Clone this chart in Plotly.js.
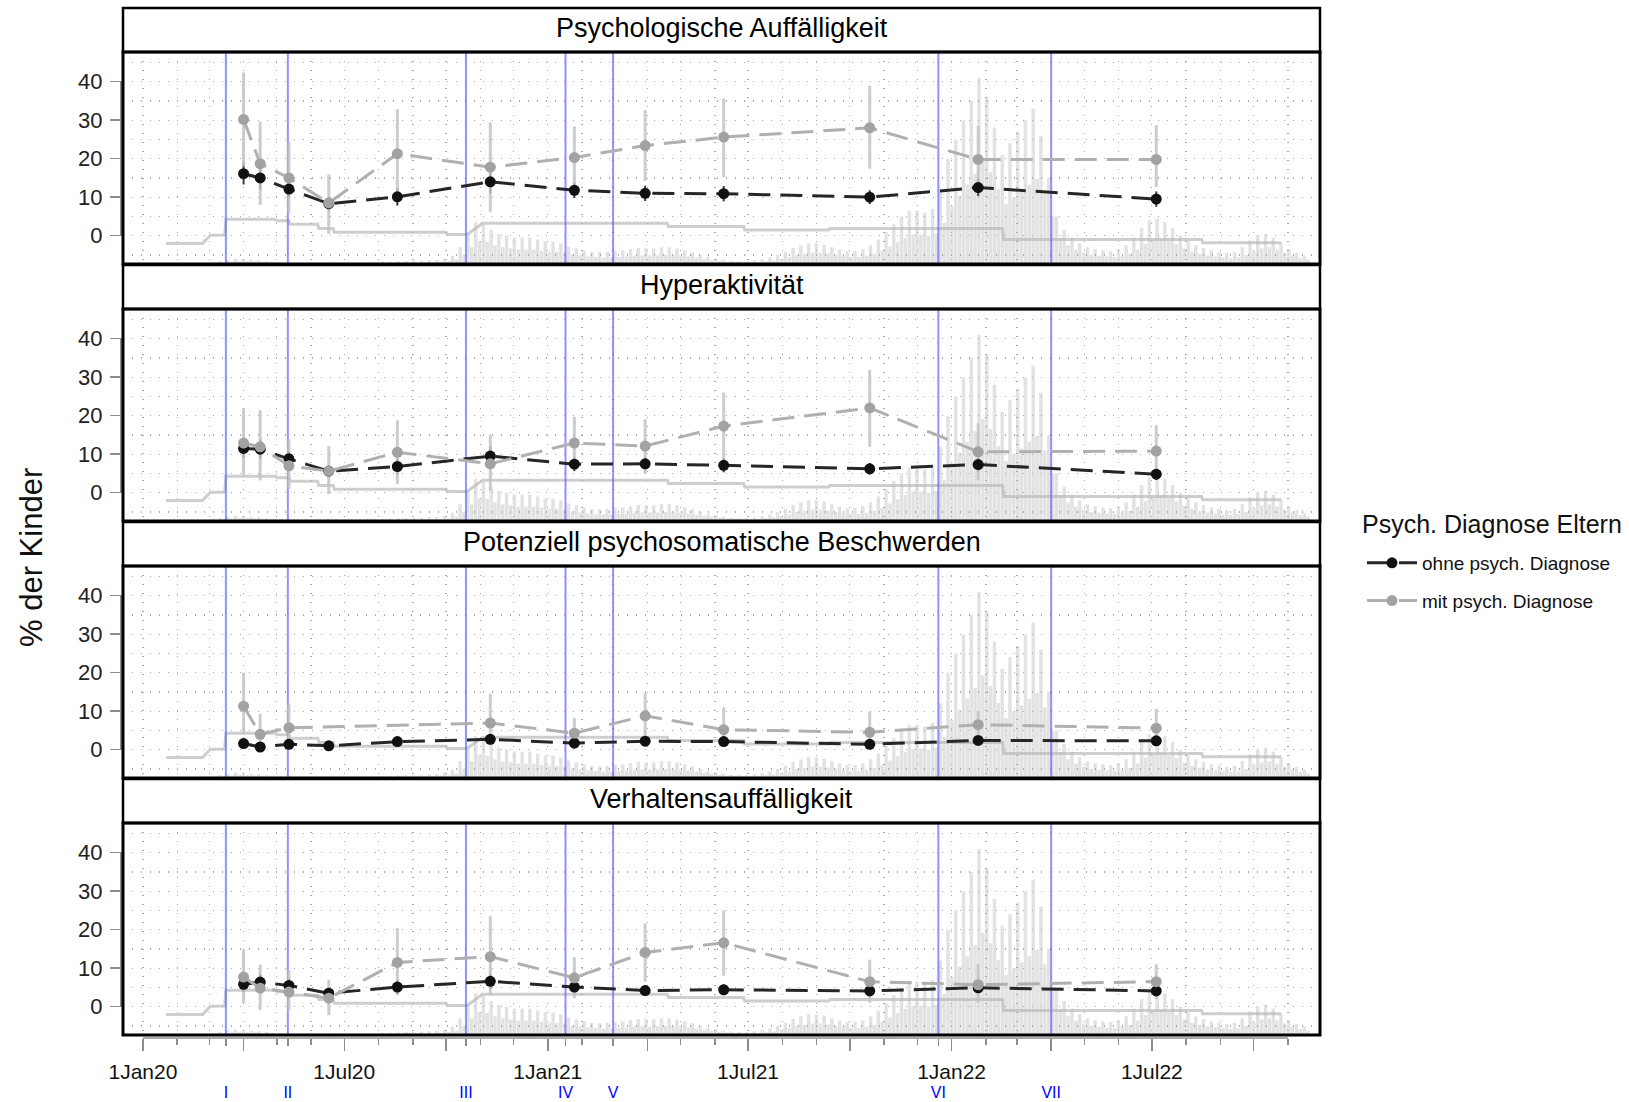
<!DOCTYPE html>
<html><head><meta charset="utf-8">
<script src="https://cdn.plot.ly/plotly-3.0.1.min.js"></script>
<style>html,body{margin:0;padding:0;background:#fff;}#chart{width:1629px;height:1102px;}</style>
</head><body><div id="chart"></div>
<script>
// ---------------- data ----------------
const panelTitles = ["Psychologische Auffälligkeit", "Hyperaktivität", "Potenziell psychosomatische Beschwerden", "Verhaltensauffälligkeit"];
const seriesNames = ["ohne psych. Diagnose", "mit psych. Diagnose"];
const legendTitle = "Psych. Diagnose Eltern";
const yTitle = "% der Kinder";

const surveyDates = ["2020-04-01","2020-04-16","2020-05-12","2020-06-17","2020-08-18","2020-11-10","2021-01-25","2021-03-30","2021-06-09","2021-10-19","2022-01-25","2022-07-05"];

// Psychologische Auffälligkeit
const p1Ohne   = [16.1, 15.0, 12.1, 8.3, 10.1, 14.0, 11.8, 11.0, 10.9, 10.0, 12.5, 9.5];
const p1OhneLo = [13.3, 12.0, 9.9, 6.5, 7.8, 11.0, 9.8, 9.0, 8.9, 8.2, 10.3, 7.5];
const p1OhneHi = [19.0, 18.0, 14.3, 10.1, 12.4, 17.0, 13.8, 13.0, 12.9, 11.8, 14.7, 11.5];
const p1Mit    = [30.2, 18.7, 15.0, 8.5, 21.3, 17.8, 20.3, 23.4, 25.6, 28.0, 19.8, 19.8];
const p1MitLo  = [18.0, 8.0, 5.8, 0.5, 11.0, 6.1, 12.5, 14.2, 15.2, 17.4, 11.5, 12.6];
const p1MitHi  = [42.4, 29.6, 24.3, 15.9, 32.8, 29.4, 28.4, 32.6, 35.6, 38.9, 28.5, 28.7];

// Hyperaktivität
const p2Ohne   = [11.5, 11.3, 8.8, 5.6, 6.8, 9.5, 7.4, 7.5, 7.1, 6.2, 7.3, 4.8];
const p2OhneLo = [9.0, 8.8, 6.8, 4.1, 4.8, 7.0, 5.6, 5.7, 5.3, 4.7, 5.5, 3.3];
const p2OhneHi = [14.0, 13.8, 10.8, 7.1, 8.8, 12.0, 9.2, 9.3, 8.9, 7.7, 9.1, 6.3];
const p2Mit    = [12.9, 11.9, 7.0, 5.6, 10.5, 7.5, 12.9, 12.1, 17.3, 22.0, 10.6, 10.8];
const p2MitLo  = [4.1, 3.2, 1.0, -0.4, 2.3, 0.5, 6.0, 4.9, 8.5, 11.9, 3.2, 4.0];
const p2MitHi  = [21.9, 21.4, 13.8, 12.1, 18.8, 15.1, 19.7, 19.1, 26.0, 31.9, 18.0, 17.5];

// Potenziell psychosomatische Beschwerden
const p3Ohne   = [1.6, 0.7, 1.4, 1.0, 2.1, 2.7, 1.7, 2.2, 2.1, 1.4, 2.4, 2.3];
const p3OhneLo = [0.5, 0.0, 0.5, 0.2, 1.0, 1.4, 0.8, 1.2, 1.1, 0.6, 1.4, 1.3];
const p3OhneHi = [2.8, 1.6, 2.4, 1.8, 3.2, 4.0, 2.6, 3.2, 3.1, 2.2, 3.4, 3.3];
const p3Mit    = [11.3, 4.0, 5.7, null, null, 6.9, 4.3, 8.8, 5.2, 4.5, 6.5, 5.6];
const p3MitLo  = [4.0, 0.0, 0.5, null, null, 1.5, 1.0, 3.0, 1.0, 1.0, 2.5, 1.5];
const p3MitHi  = [20.0, 9.3, 11.9, null, null, 14.5, 8.2, 14.7, 11.0, 9.9, 10.0, 10.6];

// Verhaltensauffälligkeit
const p4Ohne   = [5.8, 6.4, 5.5, 3.5, 5.1, 6.6, 5.1, 4.2, 4.4, 4.1, 4.9, 4.1];
const p4OhneLo = [3.8, 4.4, 3.7, 2.0, 3.3, 4.6, 3.5, 2.8, 3.0, 2.8, 3.4, 2.8];
const p4OhneHi = [7.8, 8.4, 7.3, 5.0, 6.9, 8.6, 6.7, 5.6, 5.8, 5.4, 6.4, 5.4];
const p4Mit    = [7.7, 4.8, 3.8, 2.2, 11.5, 13.0, 7.5, 14.1, 16.6, 6.5, 5.7, 6.5];
const p4MitLo  = [1.0, -0.9, -1.0, -2.2, 3.0, 3.0, 2.2, 6.5, 8.0, 1.0, 1.0, 2.0];
const p4MitHi  = [14.8, 10.9, 9.5, 7.0, 20.4, 23.6, 12.8, 21.6, 25.0, 12.2, 11.0, 11.0];

// Phasen (blaue Linien)
const phaseDates  = ["2020-03-16","2020-05-11","2020-10-19","2021-01-17","2021-03-01","2021-12-20","2022-04-01"];
const phaseLabels = ["I","II","III","IV","V","VI","VII"];

// Hintergrund: Stufenlinie (Maßnahmen-Index, skaliert)
const stepDates  = ["2020-01-22","2020-02-24","2020-03-02","2020-03-15","2020-03-16","2020-04-30","2020-05-01","2020-05-12","2020-05-13","2020-06-07","2020-06-08","2020-06-21","2020-06-22","2020-10-01","2020-10-02","2020-10-20","2020-11-02","2020-11-03","2021-04-19","2021-04-20","2021-06-27","2021-06-28","2021-09-12","2021-09-13","2022-02-16","2022-02-17","2022-08-15","2022-08-16","2022-10-26"];
const stepValues = [-2.0,-2.0,0.1,0.2,4.3,4.3,3.9,3.9,3.0,3.0,1.9,1.9,0.9,0.9,0.3,0.3,3.0,3.2,3.2,2.4,2.4,1.5,1.5,1.9,1.9,-1.0,-1.0,-1.8,-1.8];

// Hintergrund: Inzidenz-Spitzen (wöchentlich, Hoch/Tief), ab 2020-02-24
const spikeWeekStart = "2020-02-24";
const spikeHigh = [
 -7.0,-6.9,-6.6,-6.2,-6.0,-6.0,-6.2,-6.4,-6.6,-6.8,
 -6.9,-7.0,-7.0,-7.0,-7.0,-7.0,-6.9,-6.9,-7.0,
 -7.0,-7.0,-6.9,-6.9,-6.8,-6.8,-6.7,-6.6,-6.6,
 -6.5,-6.4,-6.3,-6.0,-5.2,-3.0,0.5,3.5,
 3.0,1.5,0.5,0.0,-0.5,-0.5,-0.5,-1.0,-1.5,
 -1.5,-2.0,-2.8,-3.3,-3.8,-4.2,-4.3,-4.2,
 -4.0,-3.8,-3.5,-3.2,-3.2,-3.3,-3.0,-3.0,-3.3,
 -3.8,-4.3,-5.0,-5.5,-5.9,-6.2,-6.5,-6.6,-6.6,
 -6.4,-6.1,-5.6,-5.0,-4.2,-3.2,-2.5,-2.0,-2.0,
 -2.3,-3.0,-3.6,-4.0,-4.0,-3.5,-2.5,-1.0,
 1.0,3.0,5.0,6.5,6.5,6.0,7.0,12.0,20.0,
 25.0,30.0,35.0,41.0,36.0,28.0,21.0,24.0,27.0,
 30.0,33.0,26.0,15.0,5.0,1.5,-0.5,-2.0,
 -3.0,-3.5,-3.8,-4.0,-3.5,-2.5,-0.5,2.0,4.0,
 4.5,3.5,2.0,0.0,-1.5,-2.5,-3.2,-3.8,-4.2,
 -4.5,-4.2,-3.0,-1.2,0.0,0.5,-0.5,-2.0,-3.5,
 -4.5,-5.2];
const spikeLow = [
 -7.2,-7.1,-6.9,-6.7,-6.6,-6.6,-6.7,-6.8,-6.9,-7.0,
 -7.1,-7.2,-7.2,-7.2,-7.2,-7.2,-7.1,-7.1,-7.2,
 -7.2,-7.2,-7.1,-7.1,-7.1,-7.1,-7.0,-7.0,-7.0,
 -6.9,-6.9,-6.8,-6.6,-6.2,-5.0,-3.0,-1.4,
 -1.6,-2.5,-3.0,-3.3,-3.6,-3.6,-3.6,-3.9,-4.2,
 -4.2,-4.4,-4.9,-5.1,-5.4,-5.6,-5.7,-5.6,
 -5.5,-5.4,-5.2,-5.1,-5.1,-5.1,-5.0,-5.0,-5.1,
 -5.4,-5.7,-6.0,-6.3,-6.5,-6.7,-6.8,-6.9,-6.9,
 -6.8,-6.6,-6.4,-6.0,-5.6,-5.0,-4.7,-4.4,-4.4,
 -4.6,-5.0,-5.3,-5.5,-5.5,-5.2,-4.7,-3.9,
 -2.8,-1.7,-0.6,0.3,0.3,0.0,0.5,3.3,7.7,
 10.4,13.2,16.0,19.2,16.5,12.1,8.2,9.9,11.5,
 13.2,14.8,11.0,5.0,-0.6,-2.5,-3.6,-4.4,
 -5.0,-5.2,-5.4,-5.5,-5.2,-4.7,-3.6,-2.2,-1.1,
 -0.8,-1.4,-2.2,-3.3,-4.2,-4.7,-5.1,-5.4,-5.6,
 -5.8,-5.6,-5.0,-4.0,-3.3,-3.0,-3.6,-4.4,-5.2,
 -5.8,-6.2];

const xTickVals = ["2020-01-01","2020-04-01","2020-07-01","2020-10-01","2021-01-01","2021-04-01","2021-07-01","2021-10-01","2022-01-01","2022-04-01","2022-07-01","2022-10-01"];
const xTickText = ["1Jan20","","1Jul20","","1Jan21","","1Jul21","","1Jan22","","1Jul22",""];
const yTickVals = [0, 10, 20, 30, 40];

// ---------------- layout helpers ----------------
const W = 1629, H = 1102;
const M = {l: 123, r: 309, t: 8, b: 64};
const plotH = H - M.t - M.b;
const plotW = W - M.l - M.r;
const bottomPx = H - M.b;
const py = p => (bottomPx - p) / plotH;
const px = p => (p - M.l) / plotW;
const panelTopPx = [52, 309, 566, 823];
const panelBotPx = [264, 521, 778, 1035];
const stripTopPx = [8, 265, 522, 779];
const yRange = [-7.35, 47.7];
const xRange = ["2019-12-14", "2022-11-30"];

const SANS = "Liberation Sans, Arial, sans-serif";
const GRID = "#a8a8a8";
const GDASH = "1px,8px";
const TICKC = "#8c8c8c";

const panels = [
  {ohne: p1Ohne, ohneLo: p1OhneLo, ohneHi: p1OhneHi, mit: p1Mit, mitLo: p1MitLo, mitHi: p1MitHi},
  {ohne: p2Ohne, ohneLo: p2OhneLo, ohneHi: p2OhneHi, mit: p2Mit, mitLo: p2MitLo, mitHi: p2MitHi},
  {ohne: p3Ohne, ohneLo: p3OhneLo, ohneHi: p3OhneHi, mit: p3Mit, mitLo: p3MitLo, mitHi: p3MitHi},
  {ohne: p4Ohne, ohneLo: p4OhneLo, ohneHi: p4OhneHi, mit: p4Mit, mitLo: p4MitLo, mitHi: p4MitHi}
];

const DAY = 86400000;
const t0 = Date.parse(spikeWeekStart + "T00:00:00Z");
const spikeX = [], spikeY = [];
spikeHigh.forEach((v, i) => { spikeX.push(t0 + (7 * i + 1.75) * DAY); spikeY.push(v - yRange[0]); });
spikeLow.forEach((v, i) => { spikeX.push(t0 + (7 * i + 5.25) * DAY); spikeY.push(v - yRange[0]); });

const phaseX = [], phaseY = [];
phaseDates.forEach(d => { phaseX.push(d, d, null); phaseY.push(yRange[0], yRange[1], null); });

const diffUp = (v, hi) => v.map((x, i) => (x == null ? null : hi[i] - x));
const diffDn = (v, lo) => v.map((x, i) => (x == null ? null : x - lo[i]));

const traces = [];
const layout = {
  width: W, height: H, margin: M,
  paper_bgcolor: "#fff", plot_bgcolor: "rgba(0,0,0,0)",
  showlegend: true, barmode: "overlay",
  font: {family: SANS, color: "#111"},
  shapes: [], annotations: [],
  legend: {
    x: px(1362), y: py(544), xanchor: "left", yanchor: "top",
    font: {size: 19, family: SANS, color: "#111"},
    bgcolor: "rgba(0,0,0,0)", tracegroupgap: 10, itemwidth: 50
  }
};

for (let i = 0; i < 4; i++) {
  const n = i + 1;
  const xa = "x" + n, ya = "y" + n;
  const P = panels[i];
  // spikes
  traces.push({type: "bar", x: spikeX, y: spikeY, base: yRange[0], width: 3.1 * DAY,
    marker: {color: "rgba(175,175,175,0.36)", line: {width: 0}},
    xaxis: xa, yaxis: ya, showlegend: false, hoverinfo: "skip"});
  // step line
  traces.push({type: "scatter", mode: "lines", x: stepDates, y: stepValues,
    line: {color: "rgba(185,185,185,0.7)", width: 3},
    xaxis: xa, yaxis: ya, showlegend: false, hoverinfo: "skip"});
  // phase lines
  traces.push({type: "scatter", mode: "lines", x: phaseX, y: phaseY,
    line: {color: "rgba(100,100,255,0.7)", width: 2},
    xaxis: xa, yaxis: ya, showlegend: false, hoverinfo: "skip"});
  // error bars
  traces.push({type: "scatter", mode: "markers", x: surveyDates, y: P.ohne,
    marker: {size: 1, opacity: 0},
    error_y: {type: "data", symmetric: false, array: diffUp(P.ohne, P.ohneHi), arrayminus: diffDn(P.ohne, P.ohneLo), color: "#3c3c3c", thickness: 2, width: 0},
    xaxis: xa, yaxis: ya, showlegend: false, hoverinfo: "skip"});
  traces.push({type: "scatter", mode: "markers", x: surveyDates, y: P.mit,
    marker: {size: 1, opacity: 0},
    error_y: {type: "data", symmetric: false, array: diffUp(P.mit, P.mitHi), arrayminus: diffDn(P.mit, P.mitLo), color: "rgba(195,195,195,0.85)", thickness: 3, width: 0},
    xaxis: xa, yaxis: ya, showlegend: false, hoverinfo: "skip"});
  // lines + points
  traces.push({type: "scatter", mode: "lines+markers", name: seriesNames[0], x: surveyDates, y: P.ohne,
    line: {color: "#262626", width: 3, dash: "22px,10px"},
    marker: {color: "#111", size: 11},
    xaxis: xa, yaxis: ya, showlegend: i === 0, legendgroup: "a", legendrank: 1, hoverinfo: "skip"});
  traces.push({type: "scatter", mode: "lines+markers", name: seriesNames[1], x: surveyDates, y: P.mit,
    connectgaps: true,
    line: {color: "#b0b0b0", width: 3, dash: "22px,10px"},
    marker: {color: "#a2a2a2", size: 11},
    xaxis: xa, yaxis: ya, showlegend: i === 0, legendgroup: "b", legendrank: 2, hoverinfo: "skip"});

  const isBottom = i === 3;
  layout["xaxis" + (n === 1 ? "" : n)] = {
    type: "date", range: xRange, domain: [0, 1],
    anchor: isBottom ? "free" : ya, position: 0,
    tickmode: "array", tickvals: xTickVals, ticktext: xTickText,
    showticklabels: isBottom, ticks: isBottom ? "outside" : "", ticklen: 12, tickwidth: 1.5, tickcolor: TICKC,
    ticklabelstandoff: 3,
    tickfont: {family: SANS, size: 21, color: "#111"},
    showgrid: true, gridcolor: GRID, griddash: GDASH, gridwidth: 1.3,
    minor: {tickmode: "linear", tick0: "2020-01-01", dtick: "M1", showgrid: true, gridcolor: GRID, griddash: GDASH, gridwidth: 1.3,
      ticks: isBottom ? "outside" : "", ticklen: 6, tickwidth: 1.5, tickcolor: TICKC},
    showline: false, zeroline: false, fixedrange: true
  };
  layout["yaxis" + (n === 1 ? "" : n)] = {
    domain: [py(panelBotPx[i]), py(panelTopPx[i])], range: yRange, anchor: xa,
    tickmode: "array", tickvals: yTickVals,
    ticks: "outside", ticklen: 12, tickwidth: 1.5, tickcolor: TICKC, ticklabelstandoff: 3,
    tickfont: {family: SANS, size: 22, color: "#222"},
    showgrid: true, gridcolor: GRID, griddash: GDASH, gridwidth: 1.3,
    minor: {tickmode: "linear", tick0: 0, dtick: 5, showgrid: true, gridcolor: GRID, griddash: GDASH, gridwidth: 1.3, ticks: ""},
    showline: false, zeroline: false, fixedrange: true
  };
  // y range frame
  layout.shapes.push({type: "line", xref: "paper", yref: ya, x0: px(121), x1: px(121), y0: yTickVals[0], y1: yTickVals[yTickVals.length - 1],
    line: {color: TICKC, width: 2}, layer: "above"});
  // strip
  layout.shapes.push({type: "rect", xref: "paper", yref: "paper", x0: 0, x1: 1, y0: py(panelTopPx[i]), y1: py(stripTopPx[i]),
    fillcolor: "#fff", line: {color: "#000", width: 2.5}, layer: "above"});
  // panel border
  layout.shapes.push({type: "rect", xref: "paper", yref: "paper", x0: 0, x1: 1, y0: py(panelBotPx[i]), y1: py(panelTopPx[i]),
    fillcolor: "rgba(0,0,0,0)", line: {color: "#000", width: 3}, layer: "above"});
  layout.annotations.push({xref: "paper", yref: "paper", x: 0.5, y: py((panelTopPx[i] + stripTopPx[i]) / 2 - 2),
    text: panelTitles[i], showarrow: false, xanchor: "center", yanchor: "middle",
    font: {family: SANS, size: 27, color: "#000"}});
}

// x axis range frame line
layout.shapes.push({type: "line", xref: "x4", yref: "paper", x0: xTickVals[0], x1: "2022-11-01", y0: 0, y1: 0,
  line: {color: TICKC, width: 1.5}, layer: "above"});

// phase axis (roman numerals)
layout.xaxis5 = {
  type: "date", range: xRange, overlaying: "x4", anchor: "free", position: 0,
  tickmode: "array", tickvals: phaseDates, ticktext: phaseLabels,
  ticks: "outside", ticklen: 7, tickwidth: 1.5, tickcolor: TICKC,
  tickfont: {family: SANS, size: 16, color: "#0000ff"}, ticklabelstandoff: 33,
  showgrid: false, zeroline: false, showline: false, fixedrange: true
};
traces.push({type: "scatter", mode: "markers", x: phaseDates, y: phaseDates.map(() => null),
  xaxis: "x5", yaxis: "y4", showlegend: false, hoverinfo: "skip"});

// legend title
layout.annotations.push({xref: "paper", yref: "paper", x: px(1360), y: py(524), text: legendTitle,
  showarrow: false, xanchor: "left", yanchor: "middle", font: {family: SANS, size: 25, color: "#111"}});

layout.annotations.push({xref: "paper", yref: "paper", x: px(31), y: py(558), text: yTitle, textangle: -90,
  showarrow: false, xanchor: "center", yanchor: "middle", font: {family: SANS, size: 31, color: "#111"}});

Plotly.newPlot("chart", traces, layout, {staticPlot: true, displayModeBar: false});
</script></body></html>
